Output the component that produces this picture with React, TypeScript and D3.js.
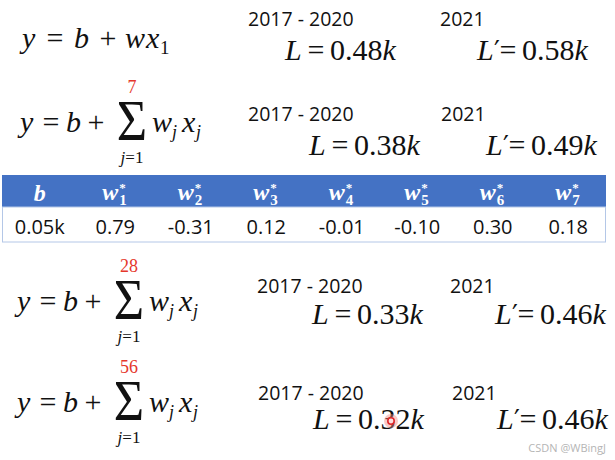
import React from "react";
import * as d3 from "d3";

// ---------- data ----------
const featureCounts = [1, 7, 28, 56];
const trainPeriod = "2017 - 2020";
const testPeriod = "2021";
const trainLoss = [0.48, 0.38, 0.33, 0.32];
const testLoss = [0.58, 0.49, 0.46, 0.46];
const paramNames = ["b", "w1", "w2", "w3", "w4", "w5", "w6", "w7"];
const paramValues = [0.05, 0.79, -0.31, 0.12, -0.01, -0.1, 0.3, 0.18];
const watermark = "CSDN @WBingJ";

// ---------- layout / style ----------
const W = 615;
const H = 460;
const MATH = "'Liberation Serif', 'Times New Roman', serif";
const SANS = "'Open Sans', 'Noto Sans', sans-serif";
const RED = "#e5372b";
const BLUE = "#4472c4";
const INK = "#111";

const rowLayout = [
  { fy: 48, dx: 0, lblY: 26, lossY: 60, trainX: 248, testX: 440, trainLX: 285, testLX: 477 },
  { fy: 132, dx: 0, lblY: 121, lossY: 155, trainX: 248, testX: 441, trainLX: 309, testLX: 486 },
  { fy: 311, dx: -3, lblY: 293, lossY: 324, trainX: 257, testX: 450, trainLX: 312, testLX: 495 },
  { fy: 412, dx: -3, lblY: 400, lossY: 429, trainX: 258, testX: 452, trainLX: 313, testLX: 497 },
];

const fmt = (v: number) => v.toFixed(2).replace("−", "-");
const FS = 30;

function SimpleFormula({ y }: { y: number }) {
  return (
    <g fontFamily={MATH} fontSize={FS} fill={INK}>
      <text x={22} y={y} fontStyle="italic">y</text>
      <text x={55} y={y} textAnchor="middle">=</text>
      <text x={74} y={y} fontStyle="italic">b</text>
      <text x={108} y={y} textAnchor="middle">+</text>
      <text x={125} y={y} fontStyle="italic">w</text>
      <text x={146} y={y} fontStyle="italic">x</text>
      <text x={160} y={y + 6} fontSize={19}>1</text>
    </g>
  );
}

function SumFormula({ y, dx, n }: { y: number; dx: number; n: number }) {
  const sx = 132 + dx;
  return (
    <g fontFamily={MATH} fontSize={FS} fill={INK}>
      <text x={20 + dx} y={y} fontStyle="italic">y</text>
      <text x={51 + dx} y={y} textAnchor="middle">=</text>
      <text x={66 + dx} y={y} fontStyle="italic">b</text>
      <text x={96 + dx} y={y} textAnchor="middle">+</text>
      <text
        transform={`translate(${sx},${y + 8}) scale(0.9,1)`}
        textAnchor="middle"
        fontSize={58}
      >
        Σ
      </text>
      <text x={sx} y={y - 39} textAnchor="middle" fontSize={18} fill={RED}>
        {n}
      </text>
      <text x={sx} y={y + 31} textAnchor="middle" fontSize={17}>
        <tspan fontStyle="italic">j</tspan>
        <tspan>=1</tspan>
      </text>
      <text x={152 + dx} y={y} fontStyle="italic">w</text>
      <text x={172 + dx} y={y + 6} fontStyle="italic" fontSize={18}>j</text>
      <text x={182 + dx} y={y} fontStyle="italic">x</text>
      <text x={196 + dx} y={y + 6} fontStyle="italic" fontSize={18}>j</text>
    </g>
  );
}

function Loss({ x, y, v, prime }: { x: number; y: number; v: number; prime?: boolean }) {
  return (
    <g fontFamily={MATH} fontSize={FS} fill={INK}>
      <text x={x} y={y} fontStyle="italic">L</text>
      {prime && (
        <text x={x + 17} y={y} fontSize={26} fontFamily="'DejaVu Sans', sans-serif">′</text>
      )}
      <text x={x + 31} y={y} textAnchor="middle">=</text>
      <text x={x + 45} y={y}>
        {fmt(v)}
        <tspan fontStyle="italic">k</tspan>
      </text>
    </g>
  );
}

function Table() {
  const top = 175;
  const mid = 207;
  const bot = 242;
  const x = d3.scaleBand<string>().domain(paramNames).range([2, 606]);
  return (
    <g>
      <rect x={2} y={top} width={604} height={mid - top} fill={BLUE} />
      <rect x={2.5} y={mid} width={603} height={bot - mid} fill="#fff" stroke="#b4c7e7" strokeWidth={1} />
      {paramNames.map((p, i) => {
        const cx = (x(p) as number) + x.bandwidth() / 2;
        const header =
          i === 0 ? (
            <text x={cx} y={201} textAnchor="middle" fontFamily={MATH} fontWeight="bold" fontStyle="italic" fontSize={24} fill="#fff">
              b
            </text>
          ) : (
            <g fontFamily={MATH} fontWeight="bold" fontStyle="italic" fill="#fff">
              <text x={cx - 13} y={200} fontSize={24}>w</text>
              <text x={cx + 4} y={205} fontSize={15} fontStyle="normal">{p.slice(1)}</text>
              <text x={cx + 4} y={192} fontSize={13} fontStyle="normal">*</text>
            </g>
          );
        const val = i === 0 ? fmt(paramValues[i]) + "k" : fmt(paramValues[i]);
        return (
          <g key={p}>
            {header}
            <text x={cx} y={234} textAnchor="middle" fontFamily={SANS} fontSize={20} fill={INK}>
              {val}
            </text>
          </g>
        );
      })}
    </g>
  );
}

export default function App() {
  return (
    <svg
      width={W}
      height={H}
      viewBox={`0 0 ${W} ${H}`}
      style={{ position: "absolute", left: 0, top: 0, background: "#fff" }}
    >
      <rect width={W} height={H} fill="#fff" />
      {featureCounts.map((n, i) => {
        const L = rowLayout[i];
        return (
          <g key={i}>
            {n === 1 ? <SimpleFormula y={L.fy} /> : <SumFormula y={L.fy} dx={L.dx} n={n} />}
            <text x={L.trainX} y={L.lblY} fontFamily={SANS} fontSize={19.5} fill={INK}>
              {trainPeriod}
            </text>
            <text x={L.testX} y={L.lblY} fontFamily={SANS} fontSize={19.5} fill={INK}>
              {testPeriod}
            </text>
            <Loss x={L.trainLX} y={L.lossY} v={trainLoss[i]} />
            <Loss x={L.testLX} y={L.lossY} v={testLoss[i]} prime />
          </g>
        );
      })}
      <Table />
      {/* laser pointer mark */}
      <circle cx={391} cy={421} r={7} fill="#f28b82" opacity={0.45} />
      <circle cx={391} cy={421} r={3.2} fill="#fde0e0" stroke="#e0282a" strokeWidth={1.6} />
      <text x={606} y={452} textAnchor="end" fontFamily={SANS} fontSize={11} fill="#b5b5b5">
        {watermark}
      </text>
    </svg>
  );
}
